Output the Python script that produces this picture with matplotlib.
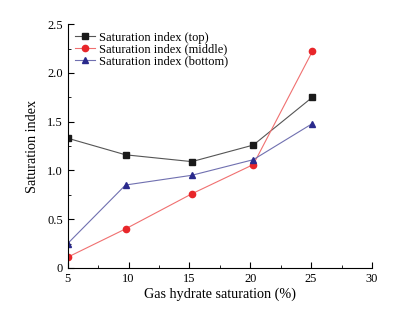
import matplotlib.pyplot as plt
from matplotlib.ticker import MultipleLocator

plt.rcParams['font.family'] = 'Liberation Serif'

# gas hydrate saturation (%)
saturation = [5, 9.75, 15.2, 20.25, 25.1]
si_top = [1.33, 1.16, 1.09, 1.26, 1.75]
si_middle = [0.11, 0.40, 0.76, 1.06, 2.22]
si_bottom = [0.25, 0.85, 0.95, 1.11, 1.48]

fig = plt.figure(figsize=(4.03, 3.22), dpi=100)
ax = fig.add_axes([0.168, 0.168, 0.755, 0.757])

ax.plot(saturation, si_top, color='#555555', lw=0.8, marker='s', ms=4.3,
        mfc='#1a1a1a', mec='#1a1a1a', label='Saturation index (top)')
ax.plot(saturation, si_middle, color='#f07070', lw=0.8, marker='o', ms=4.5,
        mfc='#e8262a', mec='#e8262a', label='Saturation index (middle)')
ax.plot(saturation, si_bottom, color='#7070b0', lw=0.8, marker='^', ms=5,
        mfc='#2a2a8c', mec='#2a2a8c', label='Saturation index (bottom)')

ax.set_xlim(5, 30)
ax.set_ylim(0, 2.5)
ax.xaxis.set_major_locator(MultipleLocator(5))
ax.xaxis.set_minor_locator(MultipleLocator(2.5))
ax.yaxis.set_minor_locator(MultipleLocator(0.25))
ax.set_yticks([0, 0.5, 1.0, 1.5, 2.0, 2.5], ['0', '0.5', '1.0', '1.5', '2.0', '2.5'])

ax.spines['top'].set_visible(False)
ax.spines['right'].set_visible(False)
ax.tick_params(which='both', direction='in', labelsize=8.9)
ax.tick_params(which='major', length=4)
ax.tick_params(which='minor', length=2.5)

ax.set_xlabel('Gas hydrate saturation (%)', fontsize=10.2, labelpad=2)
ax.set_ylabel('Saturation index', fontsize=10.2, labelpad=6)

ax.legend(loc='upper left', frameon=False, fontsize=9, handlelength=1.6,
          handletextpad=0.3, labelspacing=0.0, borderaxespad=0.2)

plt.savefig('out.png')
